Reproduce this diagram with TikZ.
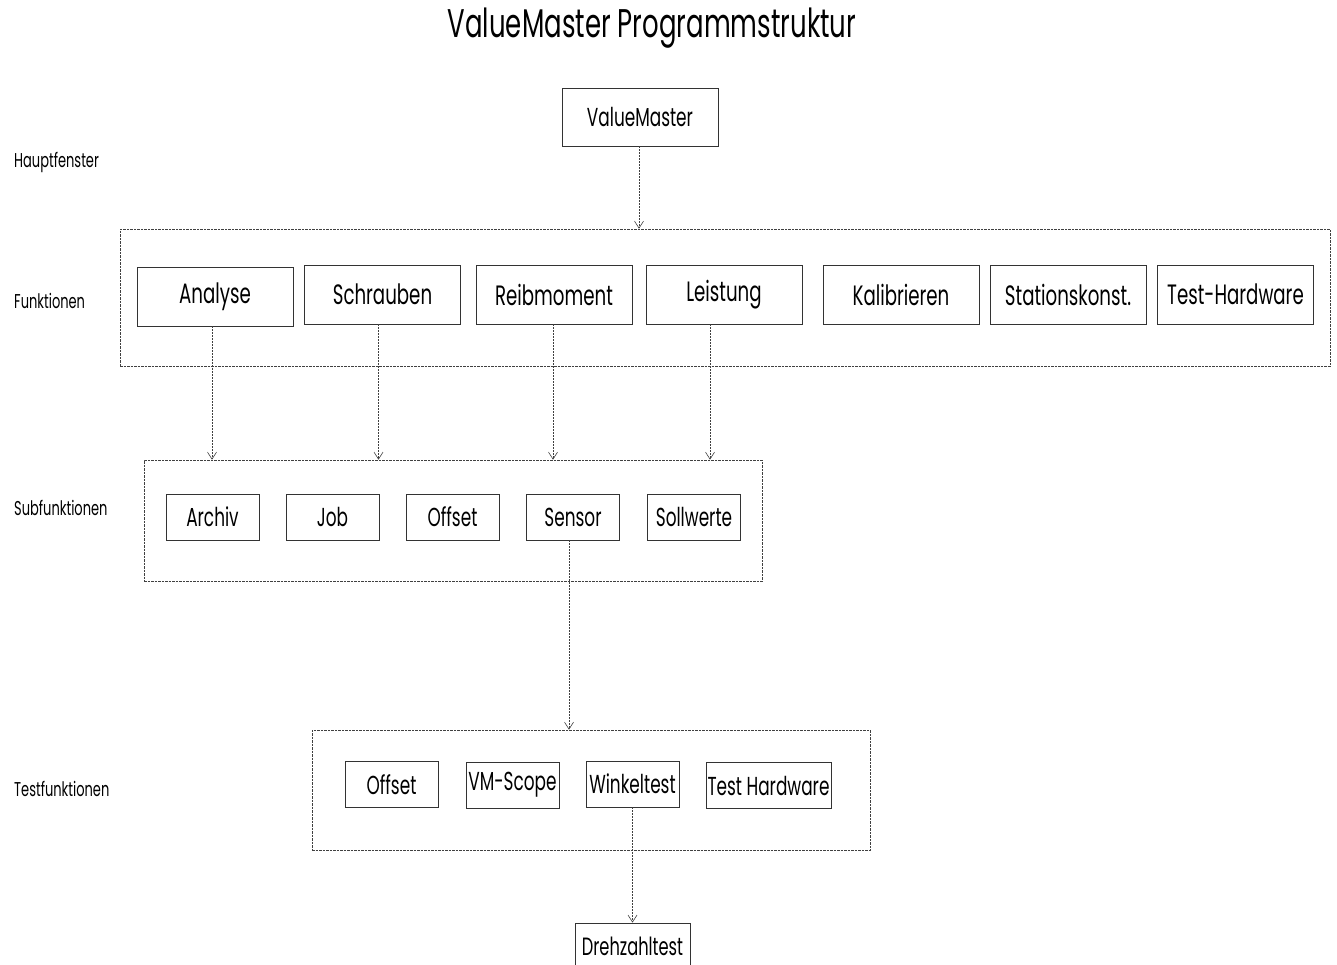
\documentclass[tikz,border=0pt]{standalone}
\usepackage{fontspec}
\setmainfont{Poppins}[FakeStretch=0.65]
\usetikzlibrary{arrows.meta}

\tikzset{
  funcbox/.style={rectangle, draw=black!80, line width=0.8pt, minimum width=156pt, minimum height=59pt, inner sep=0pt, font=\fontsize{28}{30}\selectfont},
  subbox/.style={rectangle, draw=black!80, line width=0.8pt, minimum width=93pt, minimum height=46pt, inner sep=0pt, font=\fontsize{26}{28}\selectfont},
  groupframe/.style={rectangle, draw=black!75, line width=0.6pt, dash pattern=on 2.5pt off 1pt, inner sep=0pt},
  rowlabel/.style={anchor=west, inner sep=0pt, font=\fontsize{20}{22}\selectfont},
  link/.style={draw=black!75, line width=0.6pt, dash pattern=on 2pt off 1pt, -{Straight Barb[length=7pt,width=9pt,line width=0.6pt]}}
}

\begin{document}
\begin{tikzpicture}[x=1pt, y=-1pt]

\useasboundingbox (0,0) rectangle (1337,964);

% Titel
\node (title) [inner sep=0pt, font=\fontsize{40}{42}\selectfont] at (652,28) {ValueMaster Programmstruktur};

% Ebenen
\node (lblHaupt) [rowlabel] at (14,162) {Hauptfenster};
\node (lblFunk) [rowlabel] at (14,301) {Funktionen};
\node (lblSub) [rowlabel] at (14,508) {Subfunktionen};
\node (lblTest) [rowlabel] at (14,789) {Testfunktionen};

% Hauptfenster
\node (valueMaster) [funcbox, font=\fontsize{26}{28}\selectfont, minimum height=58pt] at (640,117) {ValueMaster};

% Funktionen
\node (funkFrame) [groupframe, minimum width=1210pt, minimum height=137pt] at (725,297.5) {};
\node (analyse) [funcbox] at (215,296.5) {Analyse};
\node (schrauben) [funcbox] at (382.5,294.5) {Schrauben};
\node (reibmoment) [funcbox] at (554,294.5) {Reibmoment};
\node (leistung) [funcbox] at (724,294.5) {Leistung};
\node (kalibrieren) [funcbox] at (901,294.5) {Kalibrieren};
\node (stationskonst) [funcbox] at (1068,294.5) {Stationskonst.};
\node (testHardware) [funcbox] at (1235.5,294.5) {Test-Hardware};

% Subfunktionen
\node (subFrame) [groupframe, minimum width=618pt, minimum height=121pt] at (453,520.5) {};
\node (archiv) [subbox] at (212.5,517) {Archiv};
\node (job) [subbox] at (332.5,517) {Job};
\node (offsetSub) [subbox] at (452.5,517) {Offset};
\node (sensor) [subbox] at (573,517) {Sensor};
\node (sollwerte) [subbox] at (694,517) {Sollwerte};

% Testfunktionen
\node (testFrame) [groupframe, minimum width=558pt, minimum height=120pt] at (591,790) {};
\node (offsetTest) [subbox] at (391.5,784.5) {Offset};
\node (vmScope) [subbox] at (512.5,785) {VM-Scope};
\node (winkeltest) [subbox] at (632.5,784) {Winkeltest};
\node (testHw) [subbox, minimum width=125pt] at (768.5,785.5) {Test Hardware};

\node (drehzahltest) [subbox, minimum width=115pt, minimum height=46pt, font=\fontsize{25}{27}\selectfont] at (632.5,946) {Drehzahltest};

% Verbindungen
\draw[link] ([xshift=-1pt]valueMaster.south) -- ([xshift=-1pt]valueMaster.south |- funkFrame.north);
\draw[link] ([xshift=-3pt]analyse.south) -- ([xshift=-3pt]analyse.south |- subFrame.north);
\draw[link] ([xshift=-4pt]schrauben.south) -- ([xshift=-4pt]schrauben.south |- subFrame.north);
\draw[link] ([xshift=-1pt]reibmoment.south) -- ([xshift=-1pt]reibmoment.south |- subFrame.north);
\draw[link] ([xshift=-14pt]leistung.south) -- ([xshift=-14pt]leistung.south |- subFrame.north);
\draw[link] ([xshift=-4pt]sensor.south) -- ([xshift=-4pt]sensor.south |- testFrame.north);
\draw[link] (winkeltest.south) -- (winkeltest.south |- drehzahltest.north);

\end{tikzpicture}
\end{document}
